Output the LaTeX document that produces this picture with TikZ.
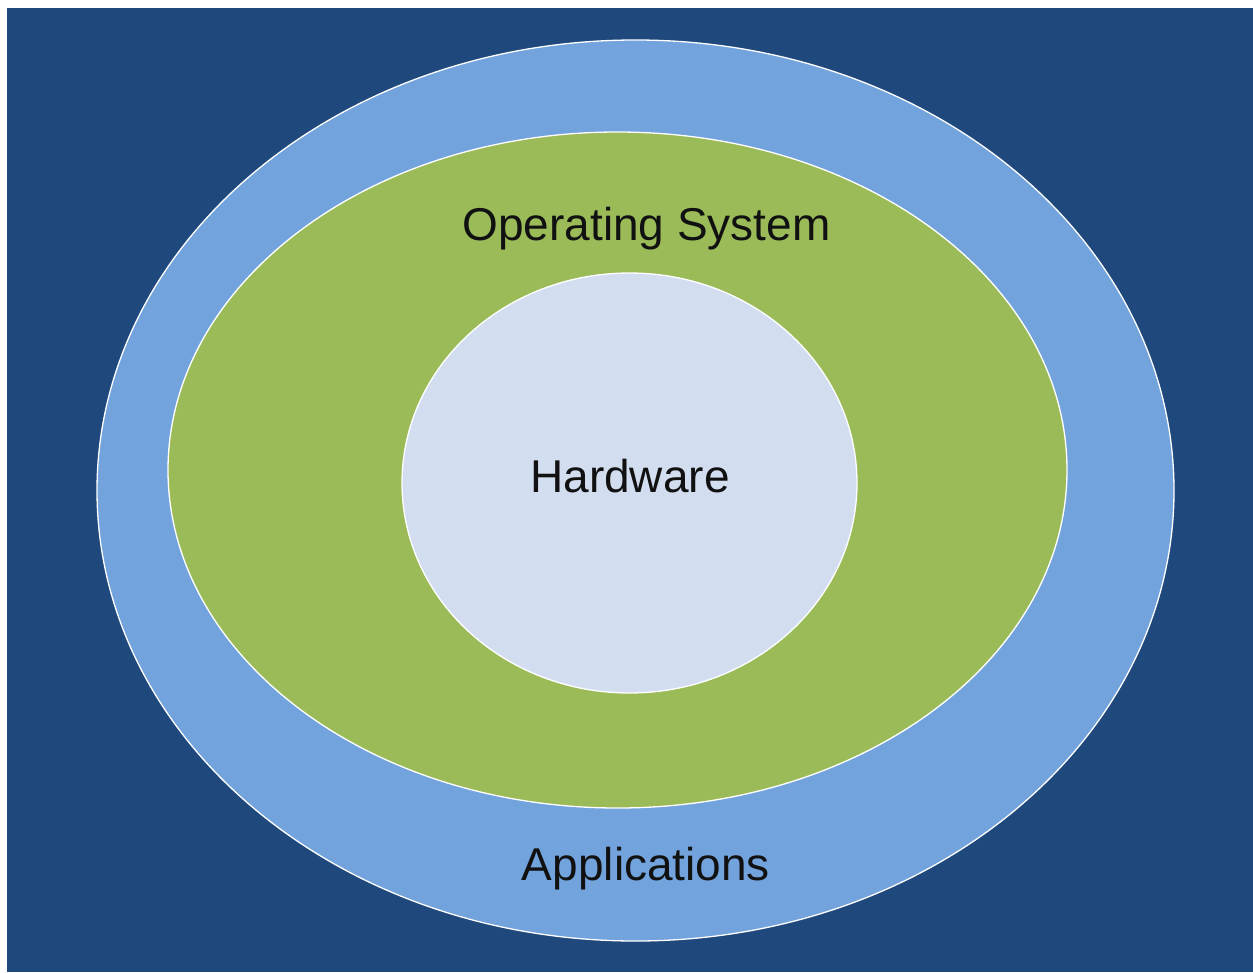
\documentclass[tikz,border=0pt]{standalone}
\usepackage{fontspec}
\setmainfont{Liberation Sans}
\usetikzlibrary{shapes.geometric}
\definecolor{navy}{HTML}{1F497D}
\definecolor{appblue}{HTML}{72A3DC}
\definecolor{osgreen}{HTML}{9BBB59}
\definecolor{hwpale}{HTML}{D2DEEF}
\definecolor{ink}{HTML}{111111}
\tikzset{
  layer/.style={ellipse, draw=white, line width=1.3pt, inner sep=0pt},
  label/.style={anchor=base, text=ink, inner sep=0pt,
    font=\fontsize{46}{55}\selectfont}
}
\begin{document}
\begin{tikzpicture}[x=1pt, y=-1pt]
  % canvas and backdrop
  \fill[white] (0,0) rectangle (1253,972);
  \useasboundingbox (0,0) rectangle (1253,972);
  \fill[navy] (7,8) rectangle (1253,972);
  % nested layers
  \node[layer, fill=appblue, minimum width=1077pt, minimum height=901pt] (apps) at (635.5,490.5) {};
  \node[layer, fill=osgreen, minimum width=899pt, minimum height=676pt] (os) at (617.5,470) {};
  \node[layer, fill=hwpale, minimum width=455pt, minimum height=420pt] (hw) at (629.5,483) {};
  % layer names
  \node[label] (oslabel) at (646.5,240) {Operating System};
  \node[label] (hwlabel) at (630,492) {Hardware};
  \node[label] (appslabel) at (646,880) {Applications};
\end{tikzpicture}
\end{document}
